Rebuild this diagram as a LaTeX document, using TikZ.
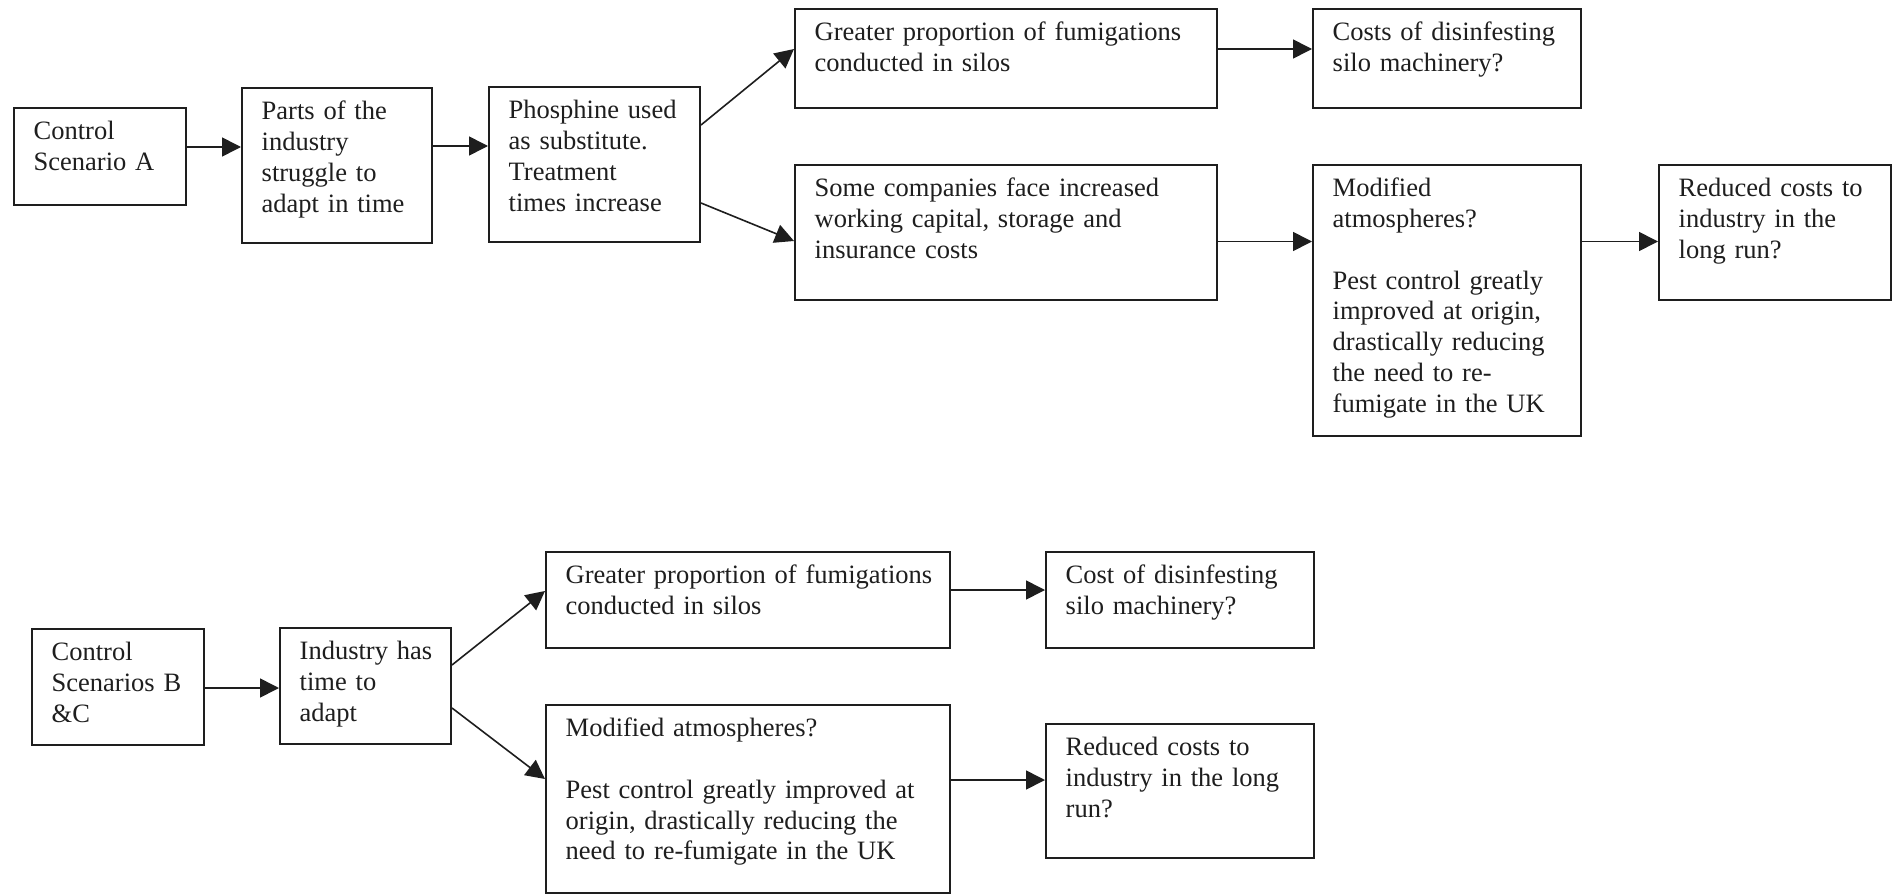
\documentclass[tikz,border=0pt]{standalone}
\usepackage{fontspec}
\setmainfont{Liberation Serif}
\usetikzlibrary{arrows.meta}
\definecolor{ink}{HTML}{1E1E1E}
\begin{document}
\begin{tikzpicture}[x=1pt,y=-1pt,
  box/.style={draw=ink, line width=2pt, rectangle, inner sep=0pt, anchor=north west},
  txt/.style={anchor=north west, inner sep=0pt, align=left, text=ink,
              font=\fontsize{26.5}{30.8}\selectfont},
  arr/.style={draw=ink, line width=1.6pt, -{Triangle[length=19pt,width=19pt]}}]
\fill[white] (0,0) rectangle (1893,894);
\useasboundingbox (0,0) rectangle (1893,894);

% ---------- Scenario A ----------
\node[box, minimum width=172pt, minimum height=97pt]  (a1) at (13,107) {};
\node[box, minimum width=190pt, minimum height=155pt] (a2) at (241,87) {};
\node[box, minimum width=211pt, minimum height=155pt] (a3) at (488,86) {};
\node[box, minimum width=422pt, minimum height=99pt]  (a4) at (794,8) {};
\node[box, minimum width=268pt, minimum height=99pt]  (a5) at (1312,8) {};
\node[box, minimum width=422pt, minimum height=135pt] (a6) at (794,164) {};
\node[box, minimum width=268pt, minimum height=271pt] (a7) at (1312,164) {};
\node[box, minimum width=232pt, minimum height=135pt] (a8) at (1658,164) {};

\node[txt, text width=150pt] (a1t) at ([xshift=20.5pt,yshift=-10.9pt]a1.north west) {\strut Control\\Scenario A};
\node[txt, text width=168pt] (a2t) at ([xshift=20.5pt,yshift=-10.9pt]a2.north west) {\strut Parts of the\\industry\\struggle to\\adapt in time};
\node[txt, text width=189pt] (a3t) at ([xshift=20.5pt,yshift=-10.9pt]a3.north west) {\strut Phosphine used\\as substitute.\\Treatment\\times increase};
\node[txt, text width=400pt] (a4t) at ([xshift=20.5pt,yshift=-10.9pt]a4.north west) {\strut Greater proportion of fumigations\\conducted in silos};
\node[txt, text width=246pt] (a5t) at ([xshift=20.5pt,yshift=-10.9pt]a5.north west) {\strut Costs of disinfesting\\silo machinery?};
\node[txt, text width=400pt] (a6t) at ([xshift=20.5pt,yshift=-10.9pt]a6.north west) {\strut Some companies face increased\\working capital, storage and\\insurance costs};
\node[txt, text width=246pt] (a7t) at ([xshift=20.5pt,yshift=-10.9pt]a7.north west) {\strut Modified\\atmospheres?\\\strut\\Pest control greatly\\improved at origin,\\drastically reducing\\the need to re-\\fumigate in the UK};
\node[txt, text width=210pt] (a8t) at ([xshift=20.5pt,yshift=-10.9pt]a8.north west) {\strut Reduced costs to\\industry in the\\long run?};

\draw[arr] ([yshift=9.5pt]a1.east) -- ([yshift=18.5pt]a2.west);
\draw[arr] ([yshift=19.5pt]a2.east) -- ([yshift=18.5pt]a3.west);
\draw[arr] ([yshift=39.5pt]a3.east) -- ([yshift=9.5pt]a4.west);
\draw[arr] ([yshift=-38.5pt]a3.east) -- ([yshift=-8.5pt]a6.west);
\draw[arr] ([yshift=9.5pt]a4.east) -- ([yshift=9.5pt]a5.west);
\draw[arr] ([yshift=-9pt]a6.east) -- ([yshift=59pt]a7.west);
\draw[arr] ([yshift=59pt]a7.east) -- ([yshift=-9pt]a8.west);

% ---------- Scenarios B & C ----------
\node[box, minimum width=172pt, minimum height=116pt] (b1) at (31,628) {};
\node[box, minimum width=171pt, minimum height=116pt] (b2) at (279,627) {};
\node[box, minimum width=404pt, minimum height=96pt]  (b3) at (545,551) {};
\node[box, minimum width=404pt, minimum height=188pt] (b4) at (545,704) {};
\node[box, minimum width=268pt, minimum height=96pt]  (b5) at (1045,551) {};
\node[box, minimum width=268pt, minimum height=134pt] (b6) at (1045,723) {};

\node[txt, text width=150pt] (b1t) at ([xshift=20.5pt,yshift=-10.9pt]b1.north west) {\strut Control\\Scenarios B\\\&C};
\node[txt, text width=150pt] (b2t) at ([xshift=20.5pt,yshift=-10.9pt]b2.north west) {\strut Industry has\\time to\\adapt};
\node[txt, text width=382pt] (b3t) at ([xshift=20.5pt,yshift=-10.9pt]b3.north west) {\strut Greater proportion of fumigations\\conducted in silos};
\node[txt, text width=382pt] (b4t) at ([xshift=20.5pt,yshift=-10.9pt]b4.north west) {\strut Modified atmospheres?\\\strut\\Pest control greatly improved at\\origin, drastically reducing the\\need to re-fumigate in the UK};
\node[txt, text width=246pt] (b5t) at ([xshift=20.5pt,yshift=-10.9pt]b5.north west) {\strut Cost of disinfesting\\silo machinery?};
\node[txt, text width=246pt] (b6t) at ([xshift=20.5pt,yshift=-10.9pt]b6.north west) {\strut Reduced costs to\\industry in the long\\run?};

\draw[arr] ([yshift=-1pt]b1.east) -- ([yshift=-2pt]b2.west);
\draw[arr] ([yshift=21pt]b2.east) -- ([yshift=9pt]b3.west);
\draw[arr] ([yshift=-22pt]b2.east) -- ([yshift=20pt]b4.west);
\draw[arr] ([yshift=10pt]b3.east) -- ([yshift=10pt]b5.west);
\draw[arr] ([yshift=19pt]b4.east) -- ([yshift=11pt]b6.west);
\end{tikzpicture}
\end{document}
